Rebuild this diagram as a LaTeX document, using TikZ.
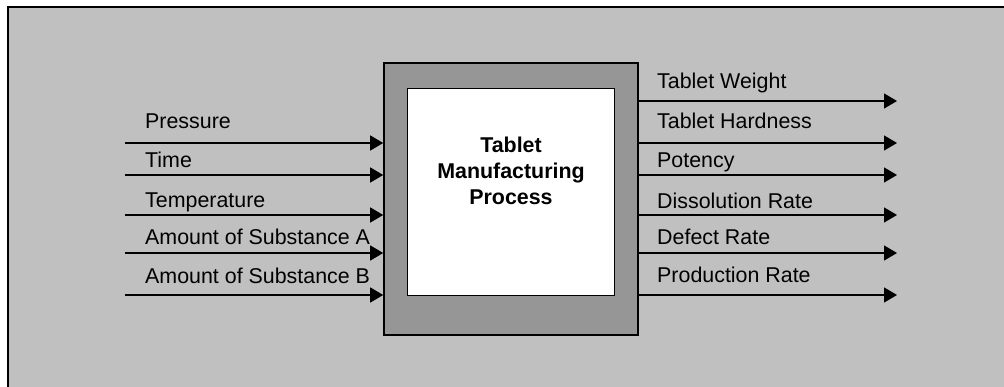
\documentclass[tikz,border=0pt]{standalone}
\usepackage{fontspec}
\setmainfont{Liberation Sans}
\usetikzlibrary{arrows.meta}
\definecolor{bggray}{HTML}{C0C0C0}
\definecolor{boxgray}{HTML}{969696}
\tikzset{
  lbl/.style={anchor=base west, inner sep=0pt, font=\fontsize{21.4}{24}\selectfont},
  ttl/.style={anchor=base, inner sep=0pt, font=\bfseries\fontsize{21.4}{24}\selectfont},
  flow/.style={line width=1.3pt, -{Triangle[length=13pt,width=15pt]}},
}
\begin{document}
\begin{tikzpicture}[x=1pt,y=-1pt]
\useasboundingbox (0,0) rectangle (1004,387);
\fill[white] (0,0) rectangle (1004,387);
\draw[fill=bggray, line width=2pt] (8,7) rectangle (1012,395);
\node[draw, line width=1.6pt, fill=boxgray, minimum width=254pt, minimum height=272pt, inner sep=0pt] (outer) at (511,199) {};
\node[draw, line width=1.6pt, fill=white, minimum width=207pt, minimum height=207pt, inner sep=0pt] (inner) at (511,192) {};
\node[ttl] (t1) at (511,153) {Tablet};
\node[ttl] (t2) at (511,179) {Manufacturing};
\node[ttl] (t3) at (511,205) {Process};
% inputs
\foreach \n/\y/\b/\t in {i1/143/129/Pressure, i2/175/168/Time, i3/215/208/Temperature, i4/253/245/Amount of Substance A, i5/295/284/Amount of Substance B}{
  \coordinate (\n s) at (125,\y);
  \coordinate (\n e) at (outer.west |- 0,\y);
  \draw[flow] (\n s) -- (\n e);
  \node[lbl] (\n l) at (145,\b) {\t};
}
% outputs
\foreach \n/\y/\b/\t in {o1/101/89/Tablet Weight, o2/143/129/Tablet Hardness, o3/175/168/Potency, o4/215/209/Dissolution Rate, o5/253/245/Defect Rate, o6/295/283/Production Rate}{
  \coordinate (\n s) at (outer.east |- 0,\y);
  \coordinate (\n e) at (897,\y);
  \draw[flow] (\n s) -- (\n e);
  \node[lbl] (\n l) at (657,\b) {\t};
}
\end{tikzpicture}
\end{document}
